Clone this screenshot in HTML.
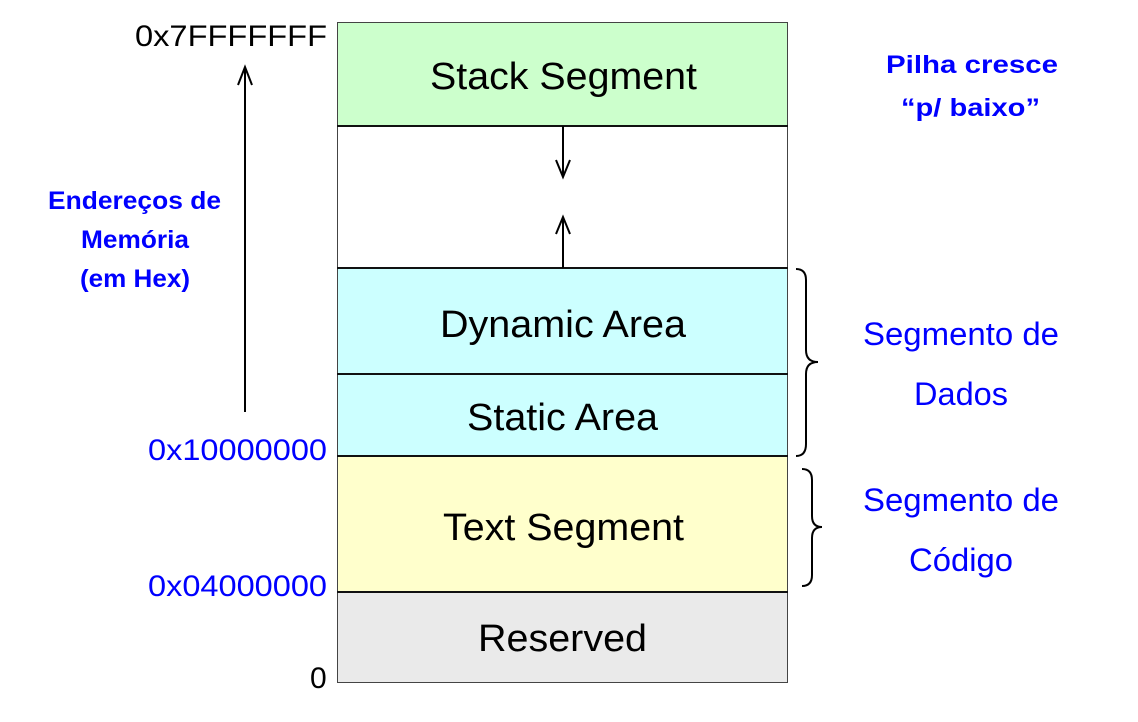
<!DOCTYPE html>
<html><head><meta charset="utf-8"><style>
html,body{margin:0;padding:0;background:#fff;}
svg{display:block;}
text{font-family:"Liberation Sans",Arial,sans-serif;}
</style></head><body>
<svg width="1138" height="722" viewBox="0 0 1138 722" xmlns="http://www.w3.org/2000/svg">
<rect x="337" y="22" width="451" height="104" fill="#ccffcc"/>
<rect x="337" y="126" width="451" height="142" fill="#fff"/>
<rect x="337" y="268" width="451" height="188" fill="#ccffff"/>
<rect x="337" y="456" width="451" height="136" fill="#ffffcc"/>
<rect x="337" y="592" width="451" height="91" fill="#eaeaea"/>
<rect x="337.5" y="22.5" width="450" height="660" fill="none" stroke="#444" stroke-width="1"/>
<g stroke="#111" stroke-width="2">
<line x1="337" y1="126" x2="788" y2="126"/>
<line x1="337" y1="268" x2="788" y2="268"/>
<line x1="337" y1="374" x2="788" y2="374"/>
<line x1="337" y1="456" x2="788" y2="456"/>
<line x1="337" y1="592" x2="788" y2="592"/>
</g>
<g stroke="#000" stroke-width="2" fill="none">
<line x1="563" y1="126" x2="563" y2="176"/>
<polyline points="556,160 563,177 570,160"/>
<line x1="563" y1="268" x2="563" y2="218"/>
<polyline points="556,234 563,217 570,234"/>
<line x1="245" y1="412" x2="245" y2="68"/>
<polyline points="238,85 245,67 252,85"/>
<path d="M796,269 Q806,269 806,280 L806,350 Q806,362 818,362 Q806,362 806,374 L806,444 Q806,456 796,456"/>
<path d="M802,469 Q812,469 812,480 L812,516 Q812,527 822,527 Q812,527 812,538 L812,575 Q812,586 802,586"/>
</g>
<g font-size="38" fill="#000">
<text x="430" y="89" textLength="267" lengthAdjust="spacingAndGlyphs">Stack Segment</text>
<text x="440" y="337" textLength="246" lengthAdjust="spacingAndGlyphs">Dynamic Area</text>
<text x="467" y="430" textLength="191" lengthAdjust="spacingAndGlyphs">Static Area</text>
<text x="443" y="540" textLength="241" lengthAdjust="spacingAndGlyphs">Text Segment</text>
<text x="478" y="651" textLength="169" lengthAdjust="spacingAndGlyphs">Reserved</text>
</g>
<g font-size="30">
<text x="135" y="46" fill="#000" textLength="192" lengthAdjust="spacingAndGlyphs">0x7FFFFFFF</text>
<text x="148" y="460" fill="#0000ff" textLength="179" lengthAdjust="spacingAndGlyphs">0x10000000</text>
<text x="148" y="596" fill="#0000ff" textLength="179" lengthAdjust="spacingAndGlyphs">0x04000000</text>
<text x="310" y="688" fill="#000">0</text>
</g>
<g font-size="25" font-weight="bold" fill="#0000ff">
<text x="48" y="209" textLength="173" lengthAdjust="spacingAndGlyphs">Endereços de</text>
<text x="81" y="248" textLength="108" lengthAdjust="spacingAndGlyphs">Memória</text>
<text x="80" y="287" textLength="110" lengthAdjust="spacingAndGlyphs">(em Hex)</text>
<text x="886" y="73" textLength="172" lengthAdjust="spacingAndGlyphs">Pilha cresce</text>
<text x="901" y="116" textLength="139" lengthAdjust="spacingAndGlyphs">“p/ baixo”</text>
</g>
<g font-size="32" fill="#0000ff">
<text x="863" y="345" textLength="196" lengthAdjust="spacingAndGlyphs">Segmento de</text>
<text x="914" y="405" textLength="94" lengthAdjust="spacingAndGlyphs">Dados</text>
<text x="863" y="511" textLength="196" lengthAdjust="spacingAndGlyphs">Segmento de</text>
<text x="909" y="571" textLength="104" lengthAdjust="spacingAndGlyphs">Código</text>
</g>
</svg>
</body></html>
